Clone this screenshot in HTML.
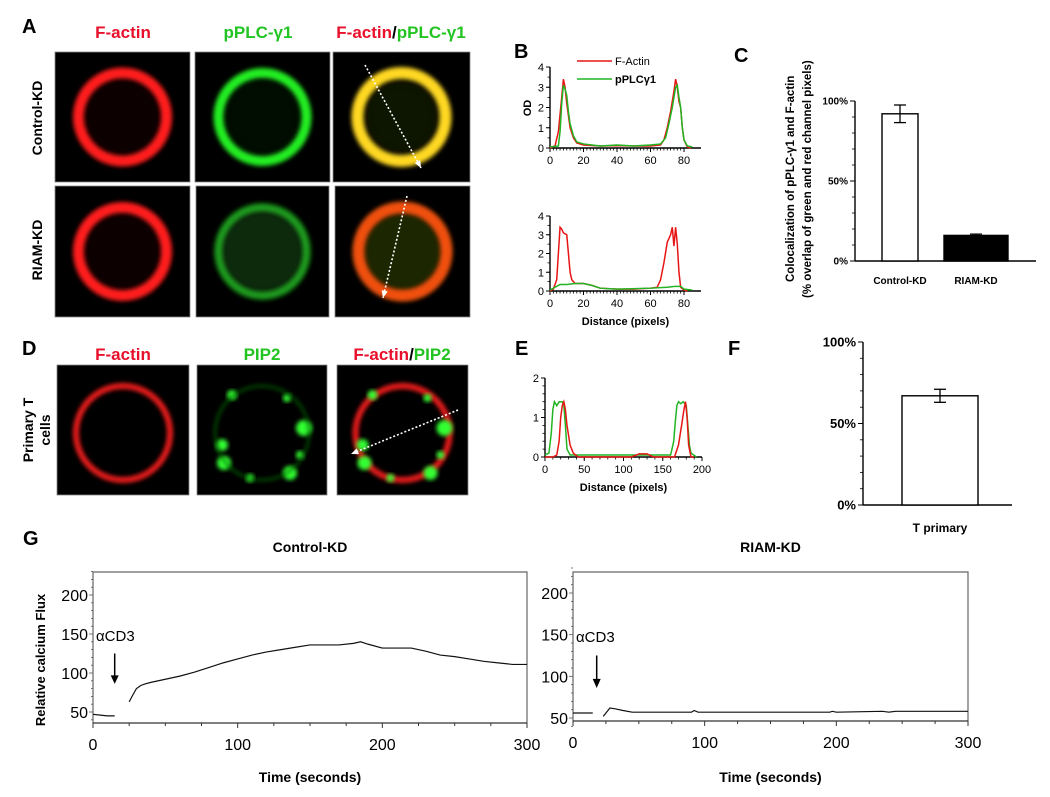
<!DOCTYPE html>
<html><head><meta charset="utf-8"><style>
html,body{margin:0;padding:0;background:#fff;}
svg{display:block;font-family:"Liberation Sans",Arial,sans-serif;}
.b{font-weight:bold;}
</style></head><body>
<svg id="fig" width="1050" height="797" viewBox="0 0 1050 797" xmlns="http://www.w3.org/2000/svg">
<defs>
<filter id="bl" x="-20%" y="-20%" width="140%" height="140%"><feGaussianBlur stdDeviation="2.2"/></filter>
<filter id="bl2" x="-20%" y="-20%" width="140%" height="140%"><feGaussianBlur stdDeviation="6"/></filter>
</defs>
<text x="22" y="33" font-size="20" class="b">A</text>
<text x="514" y="58" font-size="20" class="b">B</text>
<text x="734" y="62" font-size="20" class="b">C</text>
<text x="22" y="355" font-size="20" class="b">D</text>
<text x="515" y="355" font-size="20" class="b">E</text>
<text x="728" y="355" font-size="20" class="b">F</text>
<text x="23" y="545" font-size="20" class="b">G</text>
<text x="123" y="38" font-size="17" class="b" fill="#e8102a" text-anchor="middle">F-actin</text>
<text x="258" y="38" font-size="17" class="b" fill="#22c422" text-anchor="middle">pPLC-γ1</text>
<text x="401" y="38" font-size="17" class="b" text-anchor="middle"><tspan fill="#e8102a">F-actin</tspan><tspan fill="#000">/</tspan><tspan fill="#22c422">pPLC-γ1</tspan></text>
<text x="123" y="360" font-size="17" class="b" fill="#e8102a" text-anchor="middle">F-actin</text>
<text x="262" y="360" font-size="17" class="b" fill="#22c422" text-anchor="middle">PIP2</text>
<text x="402" y="360" font-size="17" class="b" text-anchor="middle"><tspan fill="#e8102a">F-actin</tspan><tspan fill="#000">/</tspan><tspan fill="#22c422">PIP2</tspan></text>
<text transform="translate(42,118) rotate(-90)" font-size="14" class="b" text-anchor="middle">Control-KD</text>
<text transform="translate(42,250) rotate(-90)" font-size="14" class="b" text-anchor="middle">RIAM-KD</text>
<text transform="translate(33,430) rotate(-90)" font-size="14" class="b" text-anchor="middle">Primary T</text>
<text transform="translate(50,430) rotate(-90)" font-size="14" class="b" text-anchor="middle">cells</text>
<g id="imgs"></g>
<g id="plots"></g>
</svg>
<script>
const NS="http://www.w3.org/2000/svg";
const imgs=document.getElementById('imgs');
const plots=document.getElementById('plots');
function mk(tag,at,parent){const e=document.createElementNS(NS,tag);for(const k in at)e.setAttribute(k,at[k]);(parent||plots).appendChild(e);return e;}
function tx(x,y,s,at,parent){const e=mk('text',Object.assign({x:x,y:y},at||{}),parent);e.textContent=s;return e;}

const cells=[
 {x:55,y:52,w:135,h:130,c:'#ff1a1a',inner:'#0e0000',sw:11,n:'image-control-factin'},
 {x:195,y:52,w:135,h:130,c:'#22ee22',inner:'#020c02',sw:10,n:'image-control-pplc'},
 {x:333,y:52,w:137,h:130,c:'#ffd820',inner:'#0c1400',sw:12,n:'image-control-merge'},
 {x:55,y:186,w:135,h:131,c:'#ff1a1a',inner:'#0a0000',sw:11,n:'image-riam-factin'},
 {x:196,y:186,w:133,h:131,c:'#1f9a1f',inner:'#082a08',sw:8,n:'image-riam-pplc',fill:true},
 {x:335,y:186,w:135,h:131,c:'#f05010',inner:'#1c2606',sw:12,n:'image-riam-merge',fill:true},
 {x:57,y:365,w:132,h:130,c:'#ee1a1a',inner:'#000',sw:6,n:'image-primary-factin'},
 {x:197,y:365,w:130,h:130,c:'#000',inner:'#000',sw:0,n:'image-primary-pip2'},
 {x:337,y:365,w:131,h:130,c:'#ee1a1a',inner:'#000',sw:6,n:'image-primary-merge'}
];
cells.forEach((c,i)=>{
 const g=mk('g',{},imgs);
 
 
 mk('rect',{x:c.x,y:c.y,width:c.w,height:c.h,fill:'#000',stroke:'#888','stroke-width':0.8},g);
 const cx=c.x+c.w/2, cy=c.y+c.h/2+(i>=6?3:0), r=(i>=6?47:44);
 mk('circle',{cx:cx,cy:cy,r:c.fill?r:r-6,fill:c.inner,filter:'url(#bl2)'},g);
 if(c.sw) mk('circle',{cx:cx,cy:cy,r:r,fill:'none',stroke:c.c,'stroke-width':c.sw,filter:'url(#bl)'},g);
 if(i>=7){
  const spots=[[-30,-38,5],[25,-35,4],[42,-5,8],[38,22,4],[-40,12,6],[-38,30,7],[-12,45,4],[28,40,7]];
  spots.forEach(s=>mk('circle',{cx:cx+s[0],cy:cy+s[1],r:s[2],fill:'#33ff33',filter:'url(#bl)'},g));
  if(i===7) mk('circle',{cx:cx,cy:cy,r:r,fill:'none',stroke:'#0a6a0a','stroke-width':2,filter:'url(#bl)'},g);
 }
});
[[365,65,421,168],[407,196,383,298],[458,410,351,454]].forEach((a)=>{
 const l=mk('line',{x1:a[0],y1:a[1],x2:a[2],y2:a[3],stroke:'#fff','stroke-width':1.6,'stroke-dasharray':'2 2'},imgs);
 
 
 const ang=Math.atan2(a[3]-a[1],a[2]-a[0]);
 const p=[[a[2],a[3]],[a[2]-8*Math.cos(ang-0.4),a[3]-8*Math.sin(ang-0.4)],[a[2]-8*Math.cos(ang+0.4),a[3]-8*Math.sin(ang+0.4)]];
 mk('polygon',{points:p.map(q=>q.join(',')).join(' '),fill:'#fff'},imgs);
});

const bTopRedX=[0,3,5,7,8,9,10,12,14,16,20,30,40,50,60,66,68,70,72,74,75,76,77,78,79,80,82,84];
const bTopRedY=[0,0.1,0.8,2.5,3.4,3.0,2.2,1.0,0.5,0.25,0.15,0.1,0.12,0.1,0.1,0.15,0.4,1.0,1.8,2.8,3.4,3.0,2.3,2.0,1.0,0.4,0.05,0];
const bTopGreenX=[0,5,6,7,8,9,10,11,12,14,16,20,30,40,50,60,66,69,71,73,75,76,77,78,79,80,82,85];
const bTopGreenY=[0.05,0.1,0.8,2.2,3.1,2.9,2.6,1.8,1.2,0.6,0.3,0.2,0.1,0.15,0.1,0.15,0.2,0.5,1.2,2.0,3.0,3.1,2.5,2.0,1.0,0.4,0.1,0.05];
const bBotRedX=[0,2,4,5,6,7,8,10,11,12,13,15,20,25,30,40,50,60,64,66,68,70,72,73,74,75,76,77,78,80,82];
const bBotRedY=[0,0.1,0.6,2.0,3.4,3.3,3.1,3.0,2.0,1.0,0.6,0.4,0.4,0.3,0.15,0.1,0.1,0.15,0.2,0.6,1.5,2.6,3.0,3.4,2.4,3.4,2.5,1.0,0.2,0.05,0];
const bBotGreenX=[0,3,6,10,15,20,25,30,40,60,70,75,78,80,85];
const bBotGreenY=[0.05,0.2,0.35,0.35,0.4,0.4,0.3,0.15,0.1,0.15,0.2,0.25,0.25,0.1,0.05];
const eRedX=[0,10,15,18,20,22,24,26,28,32,36,42,110,120,130,138,165,170,174,177,179,181,183,186,190];
const eRedY=[0,0,0.05,0.4,1.0,1.3,1.4,1.2,0.8,0.3,0.1,0,0,0.08,0.08,0,0,0.3,0.8,1.2,1.4,1.0,0.3,0,0];
const eGreenX=[0,5,8,10,12,15,18,22,24,26,28,32,100,160,164,166,168,170,173,176,180,182,184,186,193];
const eGreenY=[0.05,0.1,0.6,1.2,1.4,1.3,1.4,1.4,1.3,0.8,0.2,0.05,0.05,0.05,0.4,0.9,1.3,1.4,1.35,1.4,1.3,0.8,0.3,0.1,0];
const bXTicks=[0,20,40,60,80], bYTicks=[0,1,2,3,4];
const eXTicks=[0,50,100,150,200], eYTicks=[0,1,2];

function profile(o){
 const sx=v=>o.x0+(v-o.xmin)/(o.xmax-o.xmin)*(o.x1-o.x0);
 const sy=v=>o.y0-(v-o.ymin)/(o.ymax-o.ymin)*(o.y0-o.y1);
 const g=mk('g',{});
 
 
 mk('line',{x1:o.x0,y1:o.y0,x2:o.x0,y2:o.y1,stroke:'#000','stroke-width':1.4},g);
 mk('line',{x1:o.x0,y1:o.y0,x2:o.xend,y2:o.y0,stroke:'#000','stroke-width':1.4},g);
 o.xt.forEach(v=>{mk('line',{x1:sx(v),y1:o.y0,x2:sx(v),y2:o.y0+4,stroke:'#000'},g);
  const t=tx(sx(v),o.y0+16,String(v),{'font-size':11,'text-anchor':'middle'},g);
  
  });
 for(let v=o.xmin;v<=o.xmax+1e-9;v+=o.minor){mk('line',{x1:sx(v),y1:o.y0,x2:sx(v),y2:o.y0+2.5,stroke:'#000','stroke-width':0.8},g);}
 o.yt.forEach(v=>{mk('line',{x1:o.x0-4,y1:sy(v),x2:o.x0,y2:sy(v),stroke:'#000'},g);
  const t=tx(o.x0-6,sy(v)+4,String(v),{'font-size':11,'text-anchor':'end'},g);
  
  });
 for(let v=o.ymin;v<=o.ymax+1e-9;v+=o.yminor){mk('line',{x1:o.x0-2.5,y1:sy(v),x2:o.x0,y2:sy(v),stroke:'#000','stroke-width':0.8},g);}
 o.series.forEach(s=>{
  const p=mk('polyline',{points:s.x.map((v,i)=>sx(v)+','+sy(s.y[i])).join(' '),fill:'none',stroke:s.c,'stroke-width':1.5},g);
  
  
 });
 if(o.xlabel){const t=tx((o.x0+o.xend)/2,o.y0+34,o.xlabel,{'font-size':11,'font-weight':'bold','text-anchor':'middle'},g);
  }
 return g;
}
profile({name:'profile-b-control',x0:550,x1:684,xend:701,y0:148,y1:67,xmin:0,xmax:80,ymin:0,ymax:4,minor:2,yminor:0.5,xt:bXTicks,yt:bYTicks,
 series:[{x:bTopRedX,y:bTopRedY,c:'#e81515',n:'series-f-actin-control'},{x:bTopGreenX,y:bTopGreenY,c:'#22b422',n:'series-pplc-control'}]});
profile({name:'profile-b-riam',x0:550,x1:684,xend:701,y0:291,y1:216,xmin:0,xmax:80,ymin:0,ymax:4,minor:2,yminor:0.5,xt:bXTicks,yt:bYTicks,xlabel:'Distance (pixels)',
 series:[{x:bBotRedX,y:bBotRedY,c:'#e81515',n:'series-f-actin-riam'},{x:bBotGreenX,y:bBotGreenY,c:'#22b422',n:'series-pplc-riam'}]});
profile({name:'profile-e',x0:545,x1:702,xend:702,y0:457,y1:378,xmin:0,xmax:200,ymin:0,ymax:2,minor:10,yminor:0.2,xt:eXTicks,yt:eYTicks,xlabel:'Distance (pixels)',
 series:[{x:eGreenX,y:eGreenY,c:'#22b422',n:'series-pip2'},{x:eRedX,y:eRedY,c:'#e81515',n:'series-f-actin-primary'}]});
{const t=tx(531,108,'OD',{'font-size':11,'font-weight':'bold','text-anchor':'middle',transform:'rotate(-90 531 108)'});
 }
[['F-Actin','#e81515',61],['pPLCγ1','#22b422',79]].forEach(l=>{
 const g=mk('g',{});
 
 
 mk('line',{x1:577,y1:l[2],x2:612,y2:l[2],stroke:l[1],'stroke-width':1.6},g);
 tx(615,l[2]+4,l[0],{'font-size':11,'font-weight':l[0]==='pPLCγ1'?'bold':'normal'},g);
});

const cCategories=['Control-KD','RIAM-KD'];
const cValues=[92,16];
const cErrors=[5.5,0.8];
const fCategories=['T primary'];
const fValues=[67];
const fErrors=[4];
const pctTicks=[0,50,100];
function bars(o){
 const sy=v=>o.y0-v/100*(o.y0-o.y1);
 const g=mk('g',{});
 
 
 mk('line',{x1:o.x0,y1:o.y0,x2:o.x0,y2:o.y1,stroke:'#000','stroke-width':1.4},g);
 mk('line',{x1:o.x0,y1:o.y0,x2:o.xend,y2:o.y0,stroke:'#000','stroke-width':1.4},g);
 for(let v=0;v<=100;v+=10){mk('line',{x1:o.x0-3,y1:sy(v),x2:o.x0,y2:sy(v),stroke:'#000','stroke-width':0.8},g);}
 pctTicks.forEach(v=>{mk('line',{x1:o.x0-5,y1:sy(v),x2:o.x0,y2:sy(v),stroke:'#000'},g);
  const t=tx(o.x0-7,sy(v)+o.fs/3,v+'%',{'font-size':o.fs,'font-weight':'bold','text-anchor':'end'},g);
  });
 o.cats.forEach((c,i)=>{
  const x=o.bx[i], w=o.bw[i];
  const r=mk('rect',{x:x,y:sy(o.vals[i]),width:w,height:o.y0-sy(o.vals[i]),fill:o.fills[i],stroke:'#000','stroke-width':1.4},g);
  
  
  const cx=x+w/2, hi=sy(o.vals[i]+o.errs[i]), lo=sy(o.vals[i]-o.errs[i]);
  mk('line',{x1:cx,y1:hi,x2:cx,y2:lo,stroke:'#000','stroke-width':1.3},g);
  mk('line',{x1:cx-6,y1:hi,x2:cx+6,y2:hi,stroke:'#000','stroke-width':1.3},g);
  mk('line',{x1:cx-6,y1:lo,x2:cx+6,y2:lo,stroke:'#000','stroke-width':1.3},g);
  const t=tx(cx,o.y0+o.ly,c,{'font-size':o.lfs,'font-weight':'bold','text-anchor':'middle'},g);
  
 });
}
bars({name:'chart-c',x0:855,xend:1036,y0:261,y1:101,fs:10,lfs:10,ly:23,cats:cCategories,vals:cValues,errs:cErrors,bx:[882,944],bw:[36,64],fills:['#fff','#000']});
bars({name:'chart-f',x0:863,xend:1012,y0:505,y1:342,fs:13,lfs:12,ly:27,cats:fCategories,vals:fValues,errs:fErrors,bx:[902],bw:[76],fills:['#fff']});
{const t1=tx(0,0,'Colocalization of pPLC-γ1 and F-actin',{'font-size':11.5,'font-weight':'bold',transform:'translate(794,282) rotate(-90)'});
 
 const t2=tx(0,0,'(% overlap of green and red channel pixels)',{'font-size':11.5,'font-weight':'bold',transform:'translate(811,298) rotate(-90)'});
 }

const ctrlPreT=[0,5,10,15];
const ctrlPreV=[47,46,45,45];
const ctrlT=[25,27,30,33,36,40,50,60,70,80,90,100,110,120,130,140,150,160,170,180,185,190,200,210,220,230,240,250,260,270,280,290,300];
const ctrlV=[63,70,80,84,86,88,92,96,101,107,113,118,123,127,130,133,136,136,136,138,140,137,132,132,132,128,123,121,118,115,113,111,111];
const riamPreT=[0,5,10,15];
const riamPreV=[56,56,56,56];
const riamT=[23,25,28,32,38,45,60,90,92,95,120,195,197,200,235,240,245,250,255,300];
const riamV=[52,56,62,61,59,57,57,57,59,57,57,57,58,57,58,57,58,58,58,58];
const gXTicks=[0,100,200,300];
const gYTicks=[50,100,150,200];
function flux(o){
 const sx=v=>o.x0+v/300*(o.x1-o.x0);
 const sy=v=>o.y50-(v-50)/150*(o.y50-o.y200);
 const g=mk('g',{});
 
 
 mk('path',{d:`M${o.x0},${o.yb} V${o.top} H${o.x1} V${o.yb}`,fill:'none',stroke:'#666','stroke-width':1.2},g);
 mk('line',{x1:o.x0,y1:o.yb,x2:o.x1,y2:o.yb,stroke:'#333','stroke-width':1.3},g);
 for(let v=0;v<=300;v+=25){mk('line',{x1:sx(v),y1:o.yb,x2:sx(v),y2:o.yb+(v%100?3:5),stroke:'#333'},g);}
 for(let v=40;v<=230;v+=10){mk('line',{x1:o.x0-(v%50?2:4),y1:sy(v),x2:o.x0,y2:sy(v),stroke:'#555','stroke-width':0.8},g);}
 gXTicks.forEach(v=>{const t=tx(sx(v),o.yb+27,String(v),{'font-size':16,'text-anchor':'middle'},g);
  });
 gYTicks.forEach(v=>{const t=tx(o.x0-5,sy(v)+6,String(v),{'font-size':16,'text-anchor':'end'},g);
  });
 [[o.preT,o.preV],[o.t,o.v]].forEach((s,k)=>{
  const p=mk('polyline',{points:s[0].map((v,i)=>sx(v)+','+sy(s[1][i])).join(' '),fill:'none',stroke:'#111','stroke-width':1.2},g);
  
  
 });
 const t=tx(o.x0+3,sy(141),'αCD3',{'font-size':15},g);
 
 const ax=sx(o.arrT);
 mk('line',{x1:ax,y1:sy(125),x2:ax,y2:sy(95),stroke:'#000','stroke-width':1.5},g);
 mk('polygon',{points:`${ax-4},${sy(97)} ${ax+4},${sy(97)} ${ax},${sy(86)}`,fill:'#000'},g);
 tx((o.x0+o.x1)/2,552,o.title,{'font-size':14,'font-weight':'bold','text-anchor':'middle'},g);
 tx((o.x0+o.x1)/2,782,'Time (seconds)',{'font-size':14,'font-weight':'bold','text-anchor':'middle'},g);
}
flux({name:'chart-g-control',title:'Control-KD',x0:93,x1:527,top:572,yb:723,y50:712,y200:595,preT:ctrlPreT,preV:ctrlPreV,t:ctrlT,v:ctrlV,arrT:15});
flux({name:'chart-g-riam',title:'RIAM-KD',x0:573,x1:968,top:572,yb:721,y50:718,y200:593,preT:riamPreT,preV:riamPreV,t:riamT,v:riamV,arrT:18});
{const t=tx(0,0,'Relative calcium Flux',{'font-size':13,'font-weight':'bold','text-anchor':'middle',transform:'translate(45,660) rotate(-90)'});
 }
</script>
</body></html>
